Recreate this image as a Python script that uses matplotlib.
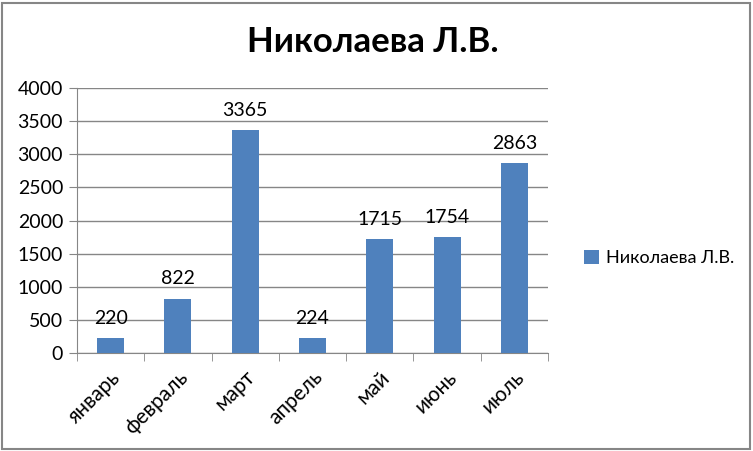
import matplotlib.pyplot as plt
from matplotlib.patches import Rectangle

# Monthly values for Николаева Л.В.
months = ["январь", "февраль", "март", "апрель", "май", "июнь", "июль"]
values = [220, 822, 3365, 224, 1715, 1754, 2863]
series_name = "Николаева Л.В."
yticks = [0, 500, 1000, 1500, 2000, 2500, 3000, 3500, 4000]


def main():
    plt.rcParams['font.family'] = ['Lato', 'DejaVu Sans']
    fig = plt.figure(figsize=(7.53, 4.51), dpi=100)
    ax = fig.add_axes([77 / 753, 1 - 353 / 451, 471 / 753, 265 / 451])

    x = list(range(len(months)))
    bars = ax.bar(x, values, width=0.4, color="#4F81BD", label=series_name, zorder=3)
    for b, v in zip(bars, values):
        ax.annotate(str(v), (b.get_x() + b.get_width() / 2, v),
                    xytext=(0, 8), textcoords="offset points",
                    ha="center", va="bottom", fontsize=14)

    ax.set_xlim(-0.5, len(months) - 0.5)
    ax.set_ylim(0, 4000)
    ax.set_yticks(yticks)
    ax.set_yticklabels([str(t) for t in yticks], fontsize=14)
    ax.yaxis.grid(True, color="#868686", linewidth=1, zorder=0)

    ax.set_xticks(x)
    ax.set_xticklabels(months, rotation=45, ha="right", rotation_mode="anchor", fontsize=15)
    ax.tick_params(axis="x", length=0, pad=10)
    ax.set_xticks([i - 0.5 for i in range(len(months) + 1)], minor=True)
    ax.tick_params(axis="x", which="minor", length=6, color="#868686", direction="out")
    ax.tick_params(axis="y", length=6, color="#868686", direction="out", pad=4)

    for s in ["top", "right"]:
        ax.spines[s].set_visible(False)
    for s in ["left", "bottom"]:
        ax.spines[s].set_color("#868686")

    fig.suptitle(series_name, x=373 / 753, y=1 - 42 / 451, va="center",
                 fontsize=25, fontweight="bold")
    ax.legend(loc="center left", bbox_to_anchor=(568 / 753, 1 - 258 / 451),
              bbox_transform=fig.transFigure, frameon=False, fontsize=13,
              handlelength=0.8, handleheight=0.8, handletextpad=0.4)

    fig.patches.append(Rectangle((2 / 753, 2 / 451), 748 / 753, 446 / 451,
                                 transform=fig.transFigure, fill=False,
                                 edgecolor="#868686", linewidth=1.5))
    fig.savefig("out.png", dpi=100)


if __name__ == "__main__":
    main()
